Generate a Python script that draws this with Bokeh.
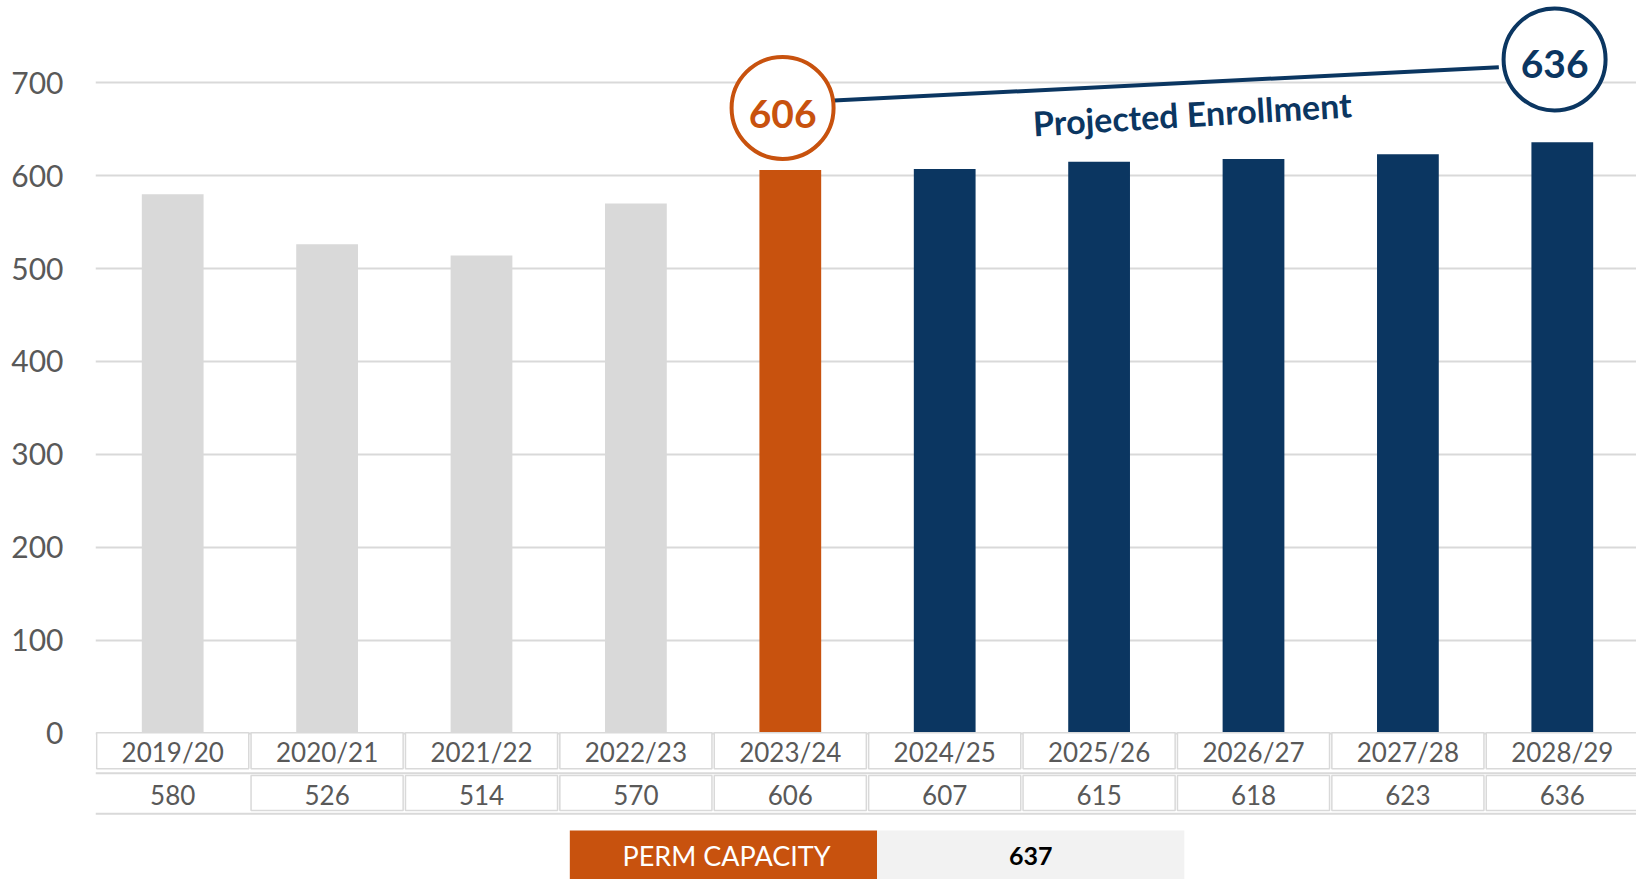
import numpy as np
from bokeh.plotting import figure
from bokeh.models import Range1d, FixedTicker, ColumnDataSource
from bokeh.core.properties import value
from bokeh.embed import file_html
from bokeh.resources import INLINE

# ---------------- data ----------------
years = ["2019/20", "2020/21", "2021/22", "2022/23", "2023/24",
         "2024/25", "2025/26", "2026/27", "2027/28", "2028/29"]
enrollment = [580, 526, 514, 570, 606, 607, 615, 618, 623, 636]
current_year = "2023/24"
perm_capacity = 637
capacity_label = "PERM CAPACITY"
projection_label = "Projected Enrollment"
y_ticks = [0, 100, 200, 300, 400, 500, 600, 700]

# ---------------- style ----------------
GRAY = "#D9D9D9"
ORANGE = "#C8520E"
NAVY = "#0B3661"
TEXT = "#595959"
FONT = "Lato"

W, H = 1636, 879
FRAME_LEFT = 95
PX_X = 154.4          # pixels per category
PX_Y = 0.929          # pixels per enrollment unit
ZERO_PX = 732.5       # canvas y of value 0
x_start = -0.5
x_end = x_start + (W - FRAME_LEFT) / PX_X
y_end = ZERO_PX / PX_Y
y_start = (ZERO_PX - H) / PX_Y

p = figure(width=W, height=H,
           x_range=Range1d(x_start, x_end), y_range=Range1d(y_start, y_end),
           output_backend="svg", toolbar_location=None, x_axis_location=None,
           min_border_left=FRAME_LEFT, min_border_right=0,
           min_border_top=0, min_border_bottom=0)
p.outline_line_color = None
p.background_fill_color = "white"
p.border_fill_color = "white"
p.xgrid.visible = False
p.ygrid.ticker = FixedTicker(ticks=y_ticks)
p.ygrid.grid_line_color = GRAY
p.ygrid.grid_line_width = 2

ax = p.yaxis[0]
ax.ticker = FixedTicker(ticks=y_ticks)
ax.axis_line_color = None
ax.major_tick_line_color = None
ax.minor_tick_line_color = None
ax.major_tick_out = 0
ax.major_tick_in = 0
ax.minor_tick_out = 0
ax.minor_tick_in = 0
ax.major_label_standoff = 32
ax.major_label_text_font = FONT
ax.major_label_text_font_size = "30px"
ax.major_label_text_color = TEXT

# ---------------- bars ----------------
idx = np.arange(len(years))
cur = years.index(current_year)
last = len(years) - 1
colors = [GRAY if i < cur else (ORANGE if i == cur else NAVY) for i in idx]
src = ColumnDataSource(dict(x=idx, top=enrollment, color=colors,
                            year=years, label=[str(v) for v in enrollment]))
p.vbar(x="x", top="top", width=0.4, fill_color="color", line_color=None, source=src)

# ---------------- table ----------------
ROW1_TOP, ROW1_BOT = 0.2, -38.5
ROW2_TOP, ROW2_BOT = -45.7, -83.4
SEP_Y, BOTTOM_Y = -43.3, -87.0
p.rect(x=idx, y=(ROW1_TOP + ROW1_BOT) / 2, width=0.985, height=ROW1_TOP - ROW1_BOT,
       fill_color="white", line_color=GRAY, line_width=1.5)
p.rect(x=idx[1:], y=(ROW2_TOP + ROW2_BOT) / 2, width=0.985, height=ROW2_TOP - ROW2_BOT,
       fill_color="white", line_color=GRAY, line_width=1.5)
p.segment(x0=[x_start, x_start], y0=[SEP_Y, BOTTOM_Y], x1=[x_end + 1, x_end + 1],
          y1=[SEP_Y, BOTTOM_Y], line_color=GRAY, line_width=2)
p.text(x="x", y=(ROW1_TOP + ROW1_BOT) / 2 - 1.5, text="year", source=src,
       text_font=value(FONT), text_font_size="26px", text_color=TEXT,
       text_align="center", text_baseline="middle")
p.text(x="x", y=(ROW2_TOP + ROW2_BOT) / 2 - 2.5, text="label", source=src,
       text_font=value(FONT), text_font_size="26px", text_color=TEXT,
       text_align="center", text_baseline="middle")

# ---------------- capacity box ----------------
CAP_LEFT, CAP_W, CAP_TOP = 2.572, 1.99, -104.9
p.quad(left=CAP_LEFT, right=CAP_LEFT + CAP_W, top=CAP_TOP, bottom=y_start - 20,
       fill_color=ORANGE, line_color=None)
p.quad(left=CAP_LEFT + CAP_W, right=CAP_LEFT + 2 * CAP_W, top=CAP_TOP, bottom=y_start - 20,
       fill_color="#F2F2F2", line_color=None)
p.text(x=[CAP_LEFT + CAP_W / 2 + 0.02], y=[-132.0], text=[capacity_label],
       text_font=value(FONT), text_font_size="27px", text_color="white",
       text_align="center", text_baseline="middle")
p.text(x=[CAP_LEFT + 1.5 * CAP_W], y=[-132.0], text=[str(perm_capacity)],
       text_font=value(FONT), text_font_size="25px", text_font_style="bold",
       text_color="black", text_align="center", text_baseline="middle")

# ---------------- annotation ----------------
C1_Y, C2_Y = 672.8, 725.0
p.segment(x0=[4.282], y0=[680.8], x1=[8.589], y1=[716.7], line_color=NAVY, line_width=4)
p.scatter(x=[cur - 0.05], y=[C1_Y], size=102, marker="circle", fill_color="white",
          line_color=ORANGE, line_width=4)
p.scatter(x=[last - 0.05], y=[C2_Y], size=102, marker="circle", fill_color="white",
          line_color=NAVY, line_width=4)
p.text(x=[cur - 0.05], y=[C1_Y - 6], text=[str(enrollment[cur])],
       text_font=value(FONT), text_font_size="39px", text_font_style="bold",
       text_color=ORANGE, text_align="center", text_baseline="middle")
p.text(x=[last - 0.05], y=[C2_Y - 5], text=[str(enrollment[last])],
       text_font=value(FONT), text_font_size="39px", text_font_style="bold",
       text_color=NAVY, text_align="center", text_baseline="middle")
p.text(x=[6.603], y=[667], text=[projection_label], angle=0.06,
       text_font=value(FONT), text_font_size="34px", text_font_style="bold",
       text_color=NAVY, text_align="center", text_baseline="middle")

open("out.html", "w").write(file_html(p, INLINE))
